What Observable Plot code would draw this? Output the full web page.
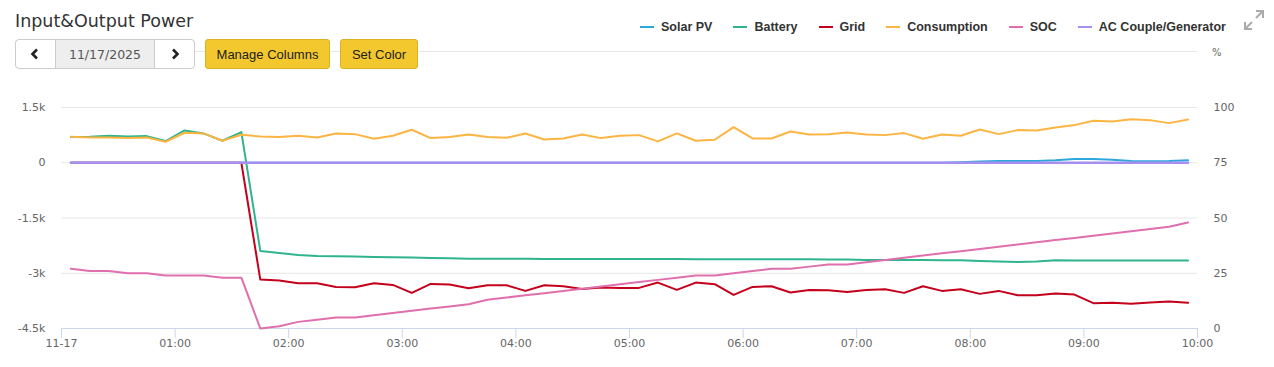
<!DOCTYPE html>
<html>
<head>
<meta charset="utf-8">
<script src="https://cdn.jsdelivr.net/npm/d3@7"></script>
<script src="https://cdn.jsdelivr.net/npm/@observablehq/plot@0.6"></script>
<style>
  html, body { margin: 0; padding: 0; background: #fff; }
  #wrap { position: relative; width: 1274px; height: 367px; overflow: hidden; font-family: "Liberation Sans", Arial, sans-serif; }
  .abs { position: absolute; }
  #title { left: 15px; top: 11px; font-family: "DejaVu Sans", sans-serif; font-size: 17.5px; color: #333; white-space: nowrap; }
  #divider { left: 15px; top: 51px; width: 1182px; height: 1px; background: #e6e6e6; }
  #dategrp { left: 15px; top: 39px; width: 178px; height: 28px; border: 1px solid #ccc; border-radius: 4px; background: #fff; display: flex; overflow: hidden; }
  #dategrp .nav { width: 39px; display: flex; align-items: center; justify-content: center; }
  #dategrp .date { width: 100px; background: #eee; border-left: 1px solid #ccc; border-right: 1px solid #ccc; display: flex; align-items: center; justify-content: center; font-family: "DejaVu Sans", sans-serif; font-size: 12.5px; color: #555; }
  .btn { top: 39px; height: 28px; border: 1px solid #dbb21f; border-radius: 3px; background: #f2c82e; color: #222; font-size: 13px; display: flex; align-items: center; justify-content: center; }
  #legend { left: 640px; top: 20px; display: flex; gap: 21px; font-size: 12.5px; font-weight: bold; color: #333; white-space: nowrap; }
  .li { display: flex; align-items: center; }
  .sw { width: 14px; height: 2px; margin-right: 7px; }
  #pct { left: 1212px; top: 47px; font-family: "DejaVu Sans", sans-serif; font-size: 10px; color: #666; }
  #chart { left: 0; top: 80px; }
</style>
</head>
<body>
<div id="wrap">
  <div id="title" class="abs">Input&amp;Output Power</div>
  <div id="divider" class="abs"></div>
  <div id="dategrp" class="abs">
    <div class="nav"><svg width="10" height="12"><polyline points="7,1.5 2.5,6 7,10.5" fill="none" stroke="#222" stroke-width="2.6"/></svg></div>
    <div class="date">11/17/2025</div>
    <div class="nav"><svg width="10" height="12"><polyline points="3,1.5 7.5,6 3,10.5" fill="none" stroke="#222" stroke-width="2.6"/></svg></div>
  </div>
  <div class="abs btn" style="left:205px;width:123px;">Manage Columns</div>
  <div class="abs btn" style="left:340px;width:76px;">Set Color</div>
  <div id="legend" class="abs"></div>
  <svg class="abs" style="left:1242px;top:8px" width="24" height="24" viewBox="0 0 24 24">
    <g fill="none" stroke="#aaa" stroke-width="2">
      <line x1="3" y1="21" x2="10" y2="14"/><polyline points="3,14 3,21 10,21"/>
      <line x1="21" y1="3" x2="14" y2="10"/><polyline points="14,3 21,3 21,10"/>
    </g>
  </svg>
  <div id="pct" class="abs">%</div>
  <div id="chart" class="abs"></div>
</div>
<script>
// ---- data ----
const times = ["00:05","00:15","00:25","00:35","00:45","00:55",
  "01:05","01:15","01:25","01:35","01:45","01:55",
  "02:05","02:15","02:25","02:35","02:45","02:55",
  "03:05","03:15","03:25","03:35","03:45","03:55",
  "04:05","04:15","04:25","04:35","04:45","04:55",
  "05:05","05:15","05:25","05:35","05:45","05:55",
  "06:05","06:15","06:25","06:35","06:45","06:55",
  "07:05","07:15","07:25","07:35","07:45","07:55",
  "08:05","08:15","08:25","08:35","08:45","08:55",
  "09:05","09:15","09:25","09:35","09:45","09:55"];

const solarPV = [0,0,0,0,0,0,0,0,0,0, 0,0,0,0,0,0,0,0,0,0, 0,0,0,0,0,0,0,0,0,0,
  0,0,0,0,0,0,0,0,0,0, 0,0,0,0,0,0,0,15,35,45, 45,45,65,100,105,80,45,40,45,65];

const battery = [696,705,732,714,723,588,877,796,597,832,
  -2395,-2449,-2503,-2530,-2539,-2548,-2557,-2566,-2575,-2584,
  -2594,-2603,-2603,-2603,-2603,-2612,-2612,-2612,-2612,-2612,
  -2612,-2612,-2612,-2621,-2621,-2621,-2621,-2621,-2621,-2621,
  -2630,-2630,-2639,-2639,-2639,-2639,-2648,-2648,-2666,-2684,
  -2693,-2684,-2648,-2657,-2657,-2657,-2657,-2657,-2657,-2657];

const grid = [0,0,0,0,0,0,0,0,0,0,
  -3172,-3199,-3271,-3271,-3371,-3380,-3271,-3316,-3533,-3289,
  -3307,-3407,-3325,-3325,-3479,-3325,-3353,-3425,-3389,-3398,
  -3398,-3253,-3452,-3253,-3298,-3588,-3371,-3353,-3524,-3452,
  -3461,-3506,-3452,-3434,-3533,-3353,-3479,-3434,-3560,-3479,
  -3597,-3597,-3551,-3579,-3813,-3804,-3831,-3795,-3768,-3804];

const consumption = [705,687,687,669,687,570,814,796,597,760,
  714,696,732,687,796,777,651,732,895,669,
  696,768,696,678,796,633,660,768,669,732,
  750,579,796,597,624,967,660,660,850,768,
  777,823,768,750,805,651,768,732,904,777,
  886,877,958,1022,1139,1121,1184,1157,1076,1175];

const soc = [27,26,26,25,25,24,24,24,23,23,
  0,1,3,4,5,5,6,7,8,9,
  10,11,13,14,15,16,17,18,19,20,
  21,22,23,24,24,25,26,27,27,28,
  29,29,30,31,32,33,34,35,36,37,
  38,39,40,41,42,43,44,45,46,48];

const acCouple = [0,0,0,0,0,0,0,0,0,0, 0,0,0,0,0,0,0,0,0,0, 0,0,0,0,0,0,0,0,0,0,
  0,0,0,0,0,0,0,0,0,0, 0,0,0,0,0,0,0,0,0,0, 0,0,0,0,0,0,0,0,0,0];

const seriesNames = ["Solar PV","Battery","Grid","Consumption","SOC","AC Couple/Generator"];
const seriesColors = ["#2ea8dc","#30b48e","#c4001c","#fcb443","#df6fad","#a78ff0"];

const xTicks = ["00:00","01:00","02:00","03:00","04:00","05:00","06:00","07:00","08:00","09:00","10:00"];
const xTickLabels = ["11-17","01:00","02:00","03:00","04:00","05:00","06:00","07:00","08:00","09:00","10:00"];
const powerTicks = [1500, 0, -1500, -3000, -4500];
const socTicks = [100, 75, 50, 25, 0];

// ---- build ----
const toH = s => { const [h, m] = s.split(":").map(Number); return h + m / 60; };
const socToPower = v => (v - 75) * 60; // secondary axis: 0..100 % <-> -4500..1500 W
const valuesBySeries = [solarPV, battery, grid, consumption, soc, acCouple];
const rows = [];
seriesNames.forEach((name, si) => {
  valuesBySeries[si].forEach((v, i) => {
    rows.push({series: name, t: toH(times[i]), v: name === "SOC" ? socToPower(v) : v});
  });
});

const fmtPower = d => d === 0 ? "0" : (d / 1000) + "k";
const xTickVals = xTicks.map(toH);

const chart = Plot.plot({
  width: 1274,
  height: 287,
  marginLeft: 61,
  marginRight: 77,
  marginTop: 27,
  marginBottom: 39,
  style: {fontFamily: "DejaVu Sans, sans-serif", fontSize: "11px", background: "transparent"},
  x: {domain: [0, 10]},
  y: {domain: [-4500, 1500]},
  color: {domain: seriesNames, range: seriesColors},
  marks: [
    Plot.gridY(powerTicks.slice(0, 4), {stroke: "#e6e6e6", strokeOpacity: 1}),
    Plot.ruleY([-4500], {stroke: "#ccd6eb"}),
    Plot.axisX(xTickVals, {tickSize: 10, tickPadding: 1, stroke: "#ccd6eb", strokeOpacity: 1, fill: "#666",
      tickFormat: d => xTickLabels[xTickVals.indexOf(d)], label: null}),
    Plot.axisY(powerTicks, {anchor: "left", tickSize: 0, tickPadding: 16, fill: "#666", tickFormat: fmtPower, label: null}),
    Plot.axisY(socTicks.map(socToPower), {anchor: "right", tickSize: 0, tickPadding: 16, fill: "#666",
      tickFormat: d => String(Math.round(d / 60 + 75)), label: null}),
    ...seriesNames.map(name => Plot.line(rows.filter(r => r.series === name), {
      x: "t", y: "v", stroke: seriesColors[seriesNames.indexOf(name)],
      strokeWidth: name === "AC Couple/Generator" ? 2.6 : 2, strokeLinejoin: "round", strokeLinecap: "round"
    }))
  ]
});
document.getElementById("chart").appendChild(chart);

// legend
const lg = document.getElementById("legend");
seriesNames.forEach((name, i) => {
  const item = document.createElement("div");
  item.className = "li";
  const sw = document.createElement("span");
  sw.className = "sw";
  sw.style.background = seriesColors[i];
  const tx = document.createElement("span");
  tx.textContent = name;
  item.appendChild(sw); item.appendChild(tx);
  lg.appendChild(item);
});
</script>
</body>
</html>
